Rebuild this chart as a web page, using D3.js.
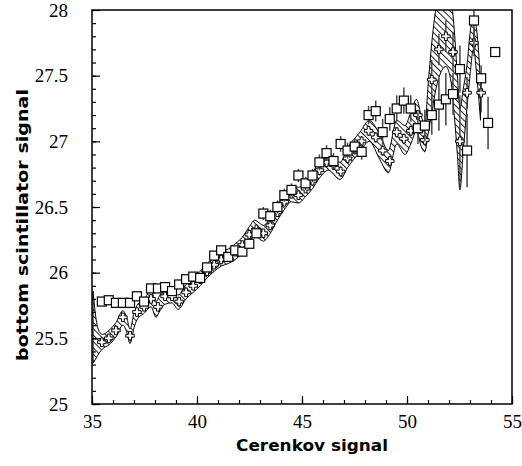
<!DOCTYPE html>
<html>
<head>
<meta charset="utf-8">
<script src="https://cdn.jsdelivr.net/npm/d3@7"></script>
<style>
  body { margin: 0; background: #fff; }
</style>
</head>
<body>
<div id="chart"></div>
<script>
// bin centres shared by both data sets
const pointX = [35.47, 35.80, 36.14, 36.47, 36.81, 37.14, 37.48, 37.81, 38.14, 38.48,
  38.81, 39.15, 39.48, 39.82, 40.15, 40.48, 40.82, 41.15, 41.49, 41.82,
  42.16, 42.49, 42.83, 43.16, 43.49, 43.83, 44.16, 44.50, 44.83, 45.17,
  45.50, 45.83, 46.17, 46.50, 46.84, 47.17, 47.51, 47.84, 48.17, 48.51,
  48.84, 49.18, 49.51, 49.85, 50.18, 50.52, 50.85, 51.18, 51.52, 51.85,
  52.19, 52.52, 52.86, 53.19, 53.53, 53.86, 54.20];

// open squares
const squareY = [25.78, 25.79, 25.77, 25.77, 25.77, 25.82, 25.78, 25.88, 25.88, 25.89,
  25.86, 25.91, 25.95, 25.97, 25.96, 26.04, 26.13, 26.17, 26.12, 26.17,
  26.16, 26.22, 26.30, 26.45, 26.43, 26.50, 26.59, 26.63, 26.74, 26.68,
  26.74, 26.84, 26.91, 26.85, 26.98, 26.93, 26.96, 26.92, 27.20, 27.23,
  27.07, 27.17, 27.25, 27.31, 27.25, 27.10, 27.12, 27.20, 27.28, 27.32,
  27.36, 27.55, 26.93, 27.92, 27.48, 27.14, 27.68];
const squareErr = [0.02, 0.02, 0.02, 0.02, 0.02, 0.02, 0.02, 0.02, 0.02, 0.02,
  0.02, 0.02, 0.02, 0.02, 0.02, 0.03, 0.03, 0.03, 0.03, 0.03,
  0.03, 0.03, 0.03, 0.05, 0.05, 0.05, 0.05, 0.05, 0.05, 0.05,
  0.05, 0.06, 0.06, 0.06, 0.06, 0.06, 0.06, 0.06, 0.07, 0.08,
  0.10, 0.09, 0.10, 0.10, 0.10, 0.12, 0.12, 0.15, 0.20, 0.20,
  0.16, 0.18, 0.28, 0.25, 0.10, 0.20, 0.00];

// open crosses (first 55 bins)
const crossY = [25.47, 25.50, 25.56, 25.66, 25.52, 25.70, 25.74, 25.80, 25.74, 25.82,
  25.82, 25.78, 25.85, 25.90, 25.95, 26.01, 26.06, 26.10, 26.12, 26.16,
  26.21, 26.29, 26.33, 26.30, 26.36, 26.46, 26.54, 26.60, 26.59, 26.64,
  26.70, 26.78, 26.84, 26.82, 26.77, 26.87, 26.94, 27.00, 27.08, 27.03,
  26.93, 26.85, 27.07, 27.02, 27.08, 27.20, 27.01, 27.47, 27.70, 27.80,
  27.68, 27.00, 27.37, 27.75, 27.37];
const crossErr = [0.02, 0.02, 0.02, 0.02, 0.02, 0.02, 0.02, 0.02, 0.02, 0.02,
  0.02, 0.02, 0.02, 0.02, 0.02, 0.02, 0.02, 0.02, 0.02, 0.02,
  0.02, 0.02, 0.02, 0.02, 0.02, 0.02, 0.02, 0.02, 0.02, 0.02,
  0.02, 0.04, 0.04, 0.04, 0.04, 0.04, 0.04, 0.04, 0.04, 0.04,
  0.04, 0.04, 0.04, 0.04, 0.04, 0.04, 0.04, 0.15, 0.12, 0.12,
  0.15, 0.35, 0.12, 0.10, 0.15];

// hatched error band
const bandX = [35.05, 35.20, 35.35, 35.50, 35.80, 36.14, 36.47, 36.65, 36.81, 37.00,
  37.14, 37.48, 37.81, 38.05, 38.20, 38.48, 38.81, 39.10, 39.48, 39.82,
  40.15, 40.48, 40.82, 41.15, 41.49, 41.82, 42.16, 42.49, 42.75, 43.16,
  43.49, 43.83, 44.16, 44.50, 44.83, 45.17, 45.50, 45.83, 46.25, 46.81,
  47.17, 47.76, 48.20, 48.71, 49.11, 49.51, 49.90, 50.18, 50.45, 50.70,
  50.85, 51.00, 51.18, 51.38, 51.60, 51.85, 52.10, 52.25, 52.40, 52.52,
  52.68, 52.87, 53.00, 53.16, 53.35, 53.50];
const bandLo = [25.31, 25.35, 25.39, 25.42, 25.45, 25.51, 25.60, 25.55, 25.46, 25.58,
  25.64, 25.69, 25.74, 25.66, 25.70, 25.76, 25.77, 25.72, 25.80, 25.85,
  25.90, 25.96, 26.01, 26.05, 26.07, 26.10, 26.15, 26.23, 26.28, 26.24,
  26.30, 26.40, 26.48, 26.54, 26.53, 26.58, 26.64, 26.72, 26.78, 26.71,
  26.80, 26.92, 27.00, 26.86, 26.76, 26.98, 26.90, 26.98, 27.08, 26.95,
  26.92, 27.05, 27.22, 27.40, 27.52, 27.57, 27.45, 27.20, 26.90, 26.63,
  26.93, 27.28, 27.50, 27.70, 27.45, 27.16];
const bandHi = [25.86, 25.64, 25.55, 25.53, 25.56, 25.62, 25.71, 25.66, 25.57, 25.69,
  25.75, 25.80, 25.86, 25.78, 25.82, 25.88, 25.88, 25.83, 25.91, 25.96,
  26.01, 26.07, 26.12, 26.16, 26.18, 26.22, 26.27, 26.35, 26.40, 26.36,
  26.42, 26.52, 26.60, 26.66, 26.65, 26.70, 26.76, 26.85, 26.91, 26.84,
  26.95, 27.07, 27.16, 27.05, 26.93, 27.16, 27.12, 27.22, 27.32, 27.18,
  27.12, 27.42, 27.75, 28.02, 28.22, 28.28, 28.10, 27.85, 27.50, 27.25,
  27.40, 27.60, 27.82, 27.95, 27.80, 27.45];

const xTicks = [35, 40, 45, 50, 55];
const yTicks = [25, 25.5, 26, 26.5, 27, 27.5, 28];

const margin = { top: 10, right: 10, bottom: 62, left: 92 };
const width = 522 - margin.left - margin.right;
const height = 466 - margin.top - margin.bottom;

const svg = d3
  .select("#chart")
  .append("svg")
  .attr("width", 522)
  .attr("height", 466)
  .append("g")
  .attr("transform", `translate(${margin.left}, ${margin.top})`);

const xScale = d3.scaleLinear().domain([35, 55]).range([0, width]);
const yScale = d3.scaleLinear().domain([25, 28]).range([height, 0]);

// hatch pattern for the band
const defs = svg.append("defs");
defs
  .append("pattern")
  .attr("id", "hatch")
  .attr("patternUnits", "userSpaceOnUse")
  .attr("width", 4.5)
  .attr("height", 10)
  .attr("patternTransform", "rotate(-45)")
  .append("line")
  .attr("x1", 0.5)
  .attr("y1", 0)
  .attr("x2", 0.5)
  .attr("y2", 10)
  .attr("stroke", "#000")
  .attr("stroke-width", 0.9);

defs
  .append("clipPath")
  .attr("id", "plot-clip")
  .append("rect")
  .attr("width", width)
  .attr("height", height);

const plot = svg.append("g").attr("clip-path", "url(#plot-clip)");

const band = bandX.map((x, i) => ({ x: x, lo: bandLo[i], hi: bandHi[i] }));
const area = d3
  .area()
  .x((d) => xScale(d.x))
  .y0((d) => yScale(d.lo))
  .y1((d) => yScale(d.hi))
  .curve(d3.curveMonotoneX);

plot
  .append("path")
  .datum(band)
  .attr("d", area)
  .attr("fill", "url(#hatch)")
  .attr("stroke", "#000")
  .attr("stroke-width", 1);

const crosses = crossY.map((y, i) => ({ x: pointX[i], y: y, e: crossErr[i] }));
const squares = squareY.map((y, i) => ({ x: pointX[i], y: y, e: squareErr[i] }));

plot
  .selectAll(".cross-bar")
  .data(crosses)
  .enter()
  .append("line")
  .attr("class", "cross-bar")
  .attr("x1", (d) => xScale(d.x))
  .attr("x2", (d) => xScale(d.x))
  .attr("y1", (d) => yScale(d.y - d.e))
  .attr("y2", (d) => yScale(d.y + d.e))
  .attr("stroke", "#333")
  .attr("stroke-width", 1.3);

const crossPath = d3.symbol(d3.symbolCross).size(40)();
plot
  .selectAll(".cross")
  .data(crosses)
  .enter()
  .append("path")
  .attr("class", "cross")
  .attr("d", crossPath)
  .attr("transform", (d) => `translate(${xScale(d.x)}, ${yScale(d.y)})`)
  .attr("fill", "#fff")
  .attr("stroke", "#000")
  .attr("stroke-width", 1);

plot
  .selectAll(".square-bar")
  .data(squares.filter((d) => d.e > 0))
  .enter()
  .append("line")
  .attr("class", "square-bar")
  .attr("x1", (d) => xScale(d.x))
  .attr("x2", (d) => xScale(d.x))
  .attr("y1", (d) => yScale(d.y - d.e))
  .attr("y2", (d) => yScale(d.y + d.e))
  .attr("stroke", "#444")
  .attr("stroke-width", 1.5);

plot
  .selectAll(".square")
  .data(squares)
  .enter()
  .append("rect")
  .attr("class", "square")
  .attr("x", (d) => xScale(d.x) - 4.5)
  .attr("y", (d) => yScale(d.y) - 4.5)
  .attr("width", 9)
  .attr("height", 9)
  .attr("fill", "#fff")
  .attr("stroke", "#000")
  .attr("stroke-width", 1.2);

// axes, ticks pointing inward
const xMinor = d3.range(35, 55.01, 1);
const yMinor = d3.range(25, 28.001, 0.1);

svg
  .append("g")
  .attr("transform", `translate(0, ${height})`)
  .call(d3.axisBottom(xScale).tickValues(xMinor).tickSize(-4).tickFormat(""))
  .call((g) => g.select(".domain").remove());

svg
  .append("g")
  .attr("id", "x-axis")
  .attr("transform", `translate(0, ${height})`)
  .call(d3.axisBottom(xScale).tickValues(xTicks).tickSize(-8).tickPadding(11).tickFormat(d3.format("d")))
  .call((g) => g.select(".domain").remove())
  .attr("font-family", "'Liberation Serif', 'DejaVu Serif', serif")
  .attr("font-size", 19);

svg
  .append("g")
  .call(d3.axisLeft(yScale).tickValues(yMinor).tickSize(-4).tickFormat(""))
  .call((g) => g.select(".domain").remove());

svg
  .append("g")
  .attr("id", "y-axis")
  .call(d3.axisLeft(yScale).tickValues(yTicks).tickSize(-8).tickPadding(24).tickFormat((d) => String(d)))
  .call((g) => g.select(".domain").remove())
  .attr("font-family", "'Liberation Serif', 'DejaVu Serif', serif")
  .attr("font-size", 19);

svg.selectAll(".tick line").attr("stroke", "#000").attr("stroke-width", 1.2);
svg.selectAll(".tick text").attr("fill", "#000");

svg
  .append("rect")
  .attr("width", width)
  .attr("height", height)
  .attr("fill", "none")
  .attr("stroke", "#000")
  .attr("stroke-width", 1.5);

svg
  .append("text")
  .attr("x", 312 - margin.left)
  .attr("y", 451 - margin.top)
  .attr("text-anchor", "middle")
  .attr("font-family", "'DejaVu Sans', sans-serif")
  .attr("font-weight", "bold")
  .attr("font-size", 15)
  .attr("textLength", 152)
  .attr("lengthAdjust", "spacingAndGlyphs")
  .text("Cerenkov signal");

svg
  .append("text")
  .attr("transform", "rotate(-90)")
  .attr("x", -(225 - margin.top))
  .attr("y", 28 - margin.left)
  .attr("text-anchor", "middle")
  .attr("font-family", "'DejaVu Sans', sans-serif")
  .attr("font-weight", "bold")
  .attr("font-size", 15)
  .attr("textLength", 272)
  .attr("lengthAdjust", "spacingAndGlyphs")
  .text("bottom scintillator signal");
</script>
</body>
</html>
